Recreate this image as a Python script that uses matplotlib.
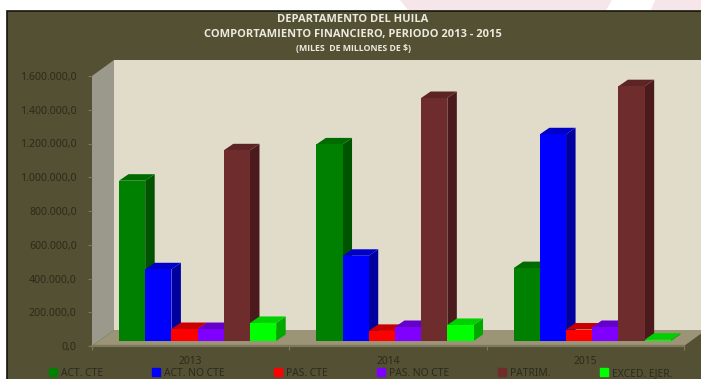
import matplotlib
matplotlib.use('Agg')
import numpy as np
import matplotlib.pyplot as plt
from matplotlib.patches import Polygon, Rectangle

# values in miles de millones de $
years = ['2013', '2014', '2015']
act_cte = [950000, 1165000, 432000]
act_no_cte = [425000, 505000, 1225000]
pas_cte = [71000, 60000, 68000]
pas_no_cte = [71000, 83000, 83000]
patrim = [1130000, 1440000, 1510000]
exced_ejer = [107000, 95000, 8000]

series = [act_cte, act_no_cte, pas_cte, pas_no_cte, patrim, exced_ejer]
names = ['ACT. CTE', 'ACT. NO CTE', 'PAS. CTE', 'PAS. NO CTE', 'PATRIM.', 'EXCED. EJER.']
fronts = ['#008000', '#0000ff', '#ff0000', '#8000ff', '#6e2c2d', '#00ff00']
tops = ['#006c00', '#0000c8', '#c80000', '#6400c8', '#5c2425', '#00d000']
sides = ['#005400', '#0000a0', '#a00000', '#5000a0', '#4a1a1c', '#00a800']
yticks = [0, 200000, 400000, 600000, 800000, 1000000, 1200000, 1400000, 1600000]

W, H = 701, 379
panel = '#545033'
text_dark = '#2c2a1c'

fig = plt.figure(figsize=(W / 100, H / 100), dpi=100, facecolor='white')

# faint watermark behind the top of the panel
for pts in ([(400, 0), (612, 0), (606, 10), (408, 10)], [(655, 0), (701, 0), (701, 10), (651, 10)]):
    fig.add_artist(Polygon([(x / W, 1 - y / H) for x, y in pts], transform=fig.transFigure,
                           facecolor='#f6e6ea', edgecolor='none', zorder=-2))
fig.add_artist(Rectangle((7 / W, -0.01), (W - 7 + 5) / W, 1 - 10.5 / H + 0.01, transform=fig.transFigure,
                         facecolor=panel, edgecolor='#14140c', linewidth=1.2, zorder=-1))

# front plane of the 3D box: x 92-684 px, y 76-346 px
ax = fig.add_axes([92 / W, 1 - 346 / H, 592 / W, 270 / H])
ax.set_xlim(0, 3)
ax.set_ylim(0, 1600000)
ax.patch.set_visible(False)
for s in ax.spines.values():
    s.set_visible(False)

px_x = 3 / 592
px_y = 1600000 / 270
wall_dx, wall_dy = 22 * px_x, 16 * px_y
bar_dx, bar_dy = 7 * px_x, 5 * px_y
depth_x, depth_y = 9.5 * px_x, 6.5 * px_y
top = 1600000


def poly(pts, color, z):
    ax.add_patch(Polygon(pts, closed=True, facecolor=color, edgecolor='none', zorder=z, clip_on=False))


poly([(wall_dx, wall_dy), (3 + wall_dx, wall_dy), (3 + wall_dx, top + wall_dy), (wall_dx, top + wall_dy)], '#e0dcc9', 1)
poly([(0, 0), (wall_dx, wall_dy), (wall_dx, top + wall_dy), (0, top)], '#9a998b', 1)
poly([(0, 0), (3, 0), (3 + wall_dx, wall_dy), (wall_dx, wall_dy)], '#9c9476', 1)
ax.plot([0, 3], [0, 0], color='#7d785c', lw=1.6, zorder=2, clip_on=False)

width = 26.2 * px_x
x0 = 20 * px_x + bar_dx
zorder = 3
for g in range(len(years)):
    for k, vals in enumerate(series):
        left = g + x0 + k * width
        v = vals[g] + bar_dy
        right = left + width
        poly([(right, bar_dy), (right + depth_x, bar_dy + depth_y), (right + depth_x, v + depth_y), (right, v)],
             sides[k], zorder)
        poly([(left, v), (right, v), (right + depth_x, v + depth_y), (left + depth_x, v + depth_y)],
             tops[k], zorder)
        ax.bar(left, vals[g], width, bottom=bar_dy, align='edge', color=fronts[k], zorder=zorder + 0.5)
        zorder += 1

ax.set_yticks(yticks)
ax.set_yticklabels([f'{v:,.1f}'.replace(',', 'X').replace('.', ',').replace('X', '.') for v in yticks])
ax.set_xticks([0, 1, 2, 3])
ax.set_xticklabels([])
ax.set_xticks([0.5, 1.5, 2.5], years, minor=True)
ax.tick_params(axis='y', colors='#7d785c', length=3, width=0.8, pad=8, labelsize=7.6, labelcolor=text_dark)
ax.tick_params(axis='x', which='major', colors='#7d785c', length=3, width=0.8)
ax.tick_params(axis='x', which='minor', length=0, pad=7, labelsize=7.4, labelcolor=text_dark)
for lab in ax.get_yticklabels() + ax.get_xticklabels(minor=True):
    lab.set_family('Noto Sans')

handles = [Rectangle((0, 0), 1, 1, color=c) for c in fronts]
fig.legend(handles, names, ncol=6, loc='center', bbox_to_anchor=(0.5 + 10 / W, 1 - 373.5 / H), frameon=False,
           prop={'family': 'Noto Sans', 'size': 7.4}, labelcolor=text_dark, borderpad=0,
           handlelength=0.8, handleheight=0.8, handletextpad=0.35, columnspacing=4.8)

title_color = '#ebeadf'
fig.text(353 / W, 1 - 19 / H, 'DEPARTAMENTO DEL HUILA', ha='center', va='center', color=title_color,
         fontsize=8, fontweight='bold', family='Open Sans')
fig.text(353 / W, 1 - 34 / H, 'COMPORTAMIENTO FINANCIERO, PERIODO 2013 - 2015', ha='center', va='center',
         color=title_color, fontsize=8, fontweight='bold', family='Open Sans')
fig.text(353 / W, 1 - 48.5 / H, '(MILES  DE MILLONES DE $)', ha='center', va='center', color=title_color,
         fontsize=6.3, fontweight='bold', family='Open Sans')

plt.savefig('out.png', dpi=100)
